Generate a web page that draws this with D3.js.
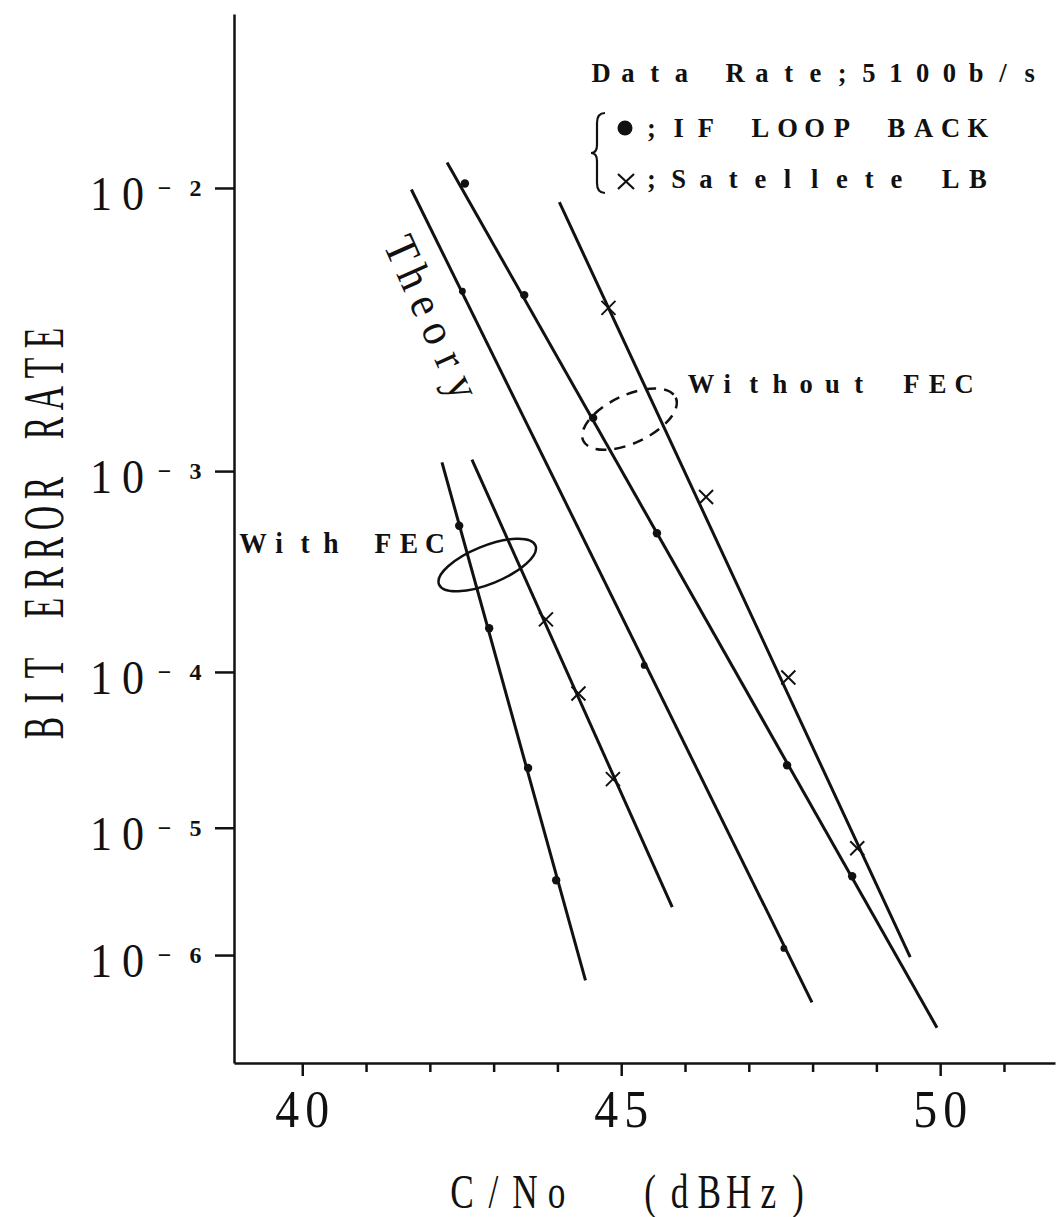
<!DOCTYPE html>
<html lang="en">
<head>
<meta charset="utf-8">
<script src="https://d3js.org/d3.v7.min.js"></script>
<style>
  body { margin: 0; background: #fff; }
  text { font-family: "Liberation Serif", "Times New Roman", serif; fill: #111; white-space: pre; }
</style>
</head>
<body>
<div id="chart"></div>
<script>

// values: [C/No (dBHz), bit error rate]
var theoryLine   = [[41.71, 9.9e-3], [47.99, 3.8e-7]];
var theoryPts    = [[42.51, 4.8e-3], [45.36, 1.09e-4], [47.55, 1.14e-6]];
var ifNoFecLine  = [[42.27, 1.18e-2], [49.95, 2.2e-7]];
var ifNoFecPts   = [[42.55, 1.03e-2], [43.48, 4.66e-3], [44.56, 1.66e-3], [45.56, 5.26e-4], [47.60, 2.68e-5], [48.62, 4.37e-6]];
var satNoFecLine = [[44.03, 9.1e-3], [49.53, 9.6e-7]];
var satNoFecPts  = [[44.80, 4.22e-3], [46.33, 7.7e-4], [47.62, 9.3e-5], [48.70, 7.1e-6]];
var ifFecLine    = [[42.19, 1.09e-3], [44.44, 6.0e-7]];
var ifFecPts     = [[42.46, 5.7e-4], [42.93, 1.75e-4], [43.54, 2.57e-5], [43.98, 4.07e-6]];
var satFecLine   = [[42.66, 1.12e-3], [45.80, 2.5e-6]];
var satFecPts    = [[43.82, 1.95e-4], [44.33, 7.5e-5], [44.87, 2.17e-5]];

var berTicks = [1e-2, 1e-3, 1e-4, 1e-5, 1e-6];
var berExp   = ["2", "3", "4", "5", "6"];
var cnTicks  = [40, 41, 42, 43, 44, 45, 46, 47, 48, 49, 50, 51];
var cnLabels = [40, 45, 50];

var margin = {top: 14, right: 9, bottom: 154, left: 234},
  width = 1064 - margin.left - margin.right,
  height = 1217 - margin.top - margin.bottom;

var svg = d3.select("#chart")
  .append("svg")
    .attr("width", 1064)
    .attr("height", 1217)
  .append("g")
    .attr("transform", "translate(" + margin.left + "," + margin.top + ")");

// BER paper: error curves are straight in ln(-ln p)
function tf(p) { return Math.log(-Math.log(p)); }

var x = d3.scaleLinear().domain([38.93, 51.8]).range([0, width]);
var y = d3.scaleLinear().domain([1.278, 2.7804]).range([0, height]);
function px(d) { return x(d[0]); }
function py(d) { return y(tf(d[1])); }

// spaced, typewriter-like text: one glyph per cell
function mono(g, str, cx0, yb, pitch, size, opts) {
  opts = opts || {};
  var sx = opts.sx || 1, rot = opts.rotate || 0;
  var xs = str.split("").map(function(c, i) { return (i * pitch) / sx; });
  return g.append("text")
    .attr("transform", "translate(" + cx0 + "," + yb + ") rotate(" + rot + ") scale(" + sx + ",1)")
    .attr("x", xs.join(" "))
    .attr("y", 0)
    .attr("text-anchor", "middle")
    .attr("font-size", size)
    .attr("font-weight", opts.weight || "normal")
    .text(str);
}

// X axis
var xAxis = svg.append("g")
  .attr("transform", "translate(0," + height + ")")
  .attr("color", "#111")
  .call(d3.axisBottom(x).tickValues(cnTicks).tickSize(9).tickSizeOuter(0).tickFormat(""));
xAxis.selectAll(".tick line").attr("y2", function(d) { return d % 5 === 0 ? 13 : 9; });
xAxis.selectAll("line, path").attr("stroke-width", 2.5);

cnLabels.forEach(function(v) {
  mono(svg, String(v), x(v) - 15, height + 64, 30, 52, {sx: 0.92});
});

// Y axis
var yAxis = svg.append("g")
  .attr("color", "#111")
  .call(d3.axisLeft(y).tickValues(berTicks.map(tf)).tickSize(19).tickSizeOuter(0).tickFormat(""));
yAxis.selectAll("line, path").attr("stroke-width", 2.5);

berTicks.forEach(function(p, i) {
  var ty = y(tf(p));
  mono(svg, "10", -133, ty + 22, 32, 49, {sx: 0.9});
  mono(svg, "\u2212" + berExp[i], -69.5, ty + 8, 31, 24, {weight: "bold"});
});

// axis titles
mono(svg, "C/No", 462 - margin.left, height + 145, 31.5, 49, {sx: 0.72});
mono(svg, "(dBHz)", 650 - margin.left, height + 145, 29.6, 49, {sx: 0.72});
mono(svg, "BIT ERROR RATE", 63 - margin.left, 728 - margin.top, 30, 56, {sx: 0.6, rotate: -90});

// curves
var line = d3.line().x(px).y(py);
[theoryLine, ifNoFecLine, satNoFecLine, ifFecLine, satFecLine].forEach(function(s) {
  svg.append("path")
    .datum(s)
    .attr("d", line)
    .attr("fill", "none")
    .attr("stroke", "#111")
    .attr("stroke-width", 3);
});

// measured points
function dots(data, r) {
  svg.selectAll(null).data(data).enter().append("circle")
    .attr("cx", px).attr("cy", py).attr("r", r).attr("fill", "#111");
}
function crosses(data) {
  svg.selectAll(null).data(data).enter().append("path")
    .attr("transform", function(d) { return "translate(" + px(d) + "," + py(d) + ")"; })
    .attr("d", "M-7,-7L7,7M-7,7L7,-7")
    .attr("stroke", "#111").attr("stroke-width", 2).attr("fill", "none");
}
dots(theoryPts, 3.4);
dots(ifNoFecPts, 4.2);
dots(ifFecPts, 4.2);
crosses(satNoFecPts);
crosses(satFecPts);

// annotations
mono(svg, "Theory", 388 - margin.left, 256 - margin.top, 30, 46, {sx: 0.92, rotate: 66});

svg.append("ellipse")
  .attr("transform", "translate(" + x(45.13) + "," + y(tf(1.64e-3)) + ") rotate(-25)")
  .attr("rx", 51).attr("ry", 24)
  .attr("fill", "none").attr("stroke", "#111").attr("stroke-width", 2.5)
  .attr("stroke-dasharray", "11 8");
mono(svg, "Without FEC", 701 - margin.left, 393 - margin.top, 26.3, 28, {sx: 0.95, weight: "bold"});

svg.append("ellipse")
  .attr("transform", "translate(" + x(42.90) + "," + y(tf(3.7e-4)) + ") rotate(-22)")
  .attr("rx", 52).attr("ry", 19)
  .attr("fill", "none").attr("stroke", "#111").attr("stroke-width", 2.5);
mono(svg, "With FEC", 253 - margin.left, 553 - margin.top, 26, 29, {sx: 0.95, weight: "bold"});

// legend
var lg = svg.append("g").attr("transform", "translate(" + (-margin.left) + "," + (-margin.top) + ")");
mono(lg, "Data Rate;5100b/s", 601, 82, 26.8, 28, {sx: 0.95, weight: "bold"});
mono(lg, ";IF LOOP BACK", 651.5, 137, 27.2, 28, {sx: 0.95, weight: "bold"});
mono(lg, ";Satellete LB", 651.5, 188, 27.2, 28, {sx: 0.95, weight: "bold"});
lg.append("circle").attr("cx", 625).attr("cy", 128).attr("r", 7.5).attr("fill", "#111");
lg.append("path")
  .attr("d", "M618,174L634,189M618,189L634,174")
  .attr("stroke", "#111").attr("stroke-width", 2.2).attr("fill", "none");
lg.append("path")
  .attr("d", "M605,113Q597,113 597,123L597,145Q597,153 591,153Q597,153 597,161L597,183Q597,193 605,193")
  .attr("stroke", "#111").attr("stroke-width", 2.2).attr("fill", "none");

</script>
</body>
</html>
